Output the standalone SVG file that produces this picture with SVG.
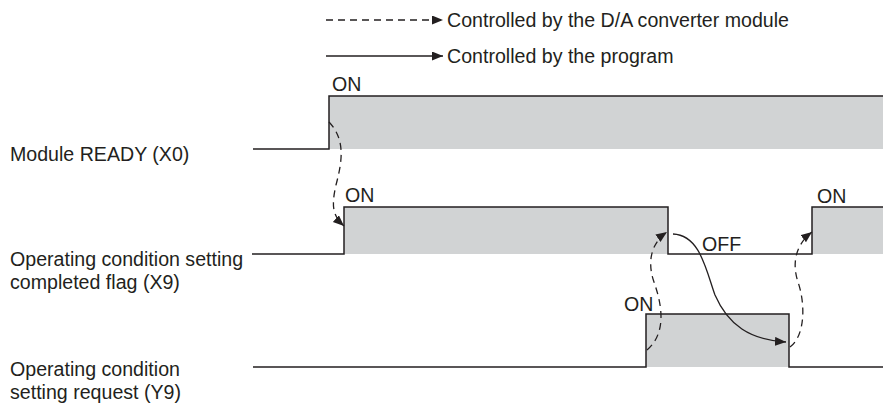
<svg xmlns="http://www.w3.org/2000/svg" width="883" height="406" viewBox="0 0 883 406">
<style>
text{font-family:"Liberation Sans",Arial,sans-serif;font-size:19.6px;fill:#231f20}
.sig{fill:none;stroke:#231f20;stroke-width:1.5}
.box{fill:#d1d3d4;stroke:none}
.dash{fill:none;stroke:#231f20;stroke-width:1.3;stroke-dasharray:7 5}
.solid{fill:none;stroke:#231f20;stroke-width:1.3}
</style>
<defs>
<marker id="ah" markerUnits="userSpaceOnUse" markerWidth="12" markerHeight="10" refX="11" refY="4.5" orient="auto">
<path d="M0,0 L11,4.5 L0,9 Z" fill="#231f20"/>
</marker>
</defs>
<g id="legend">
<line class="dash" x1="326" y1="20" x2="443" y2="20" stroke-dasharray="8 5" marker-end="url(#ah)"/>
<text x="447" y="27">Controlled by the D/A converter module</text>
<line class="solid" x1="326" y1="56" x2="443" y2="56" marker-end="url(#ah)"/>
<text x="447" y="63">Controlled by the program</text>
</g>
<g id="x0">
<rect class="box" x="329" y="96" width="554" height="53"/>
<path class="sig" d="M253,149 H329 V96 H883"/>
<text x="332" y="91">ON</text>
<text x="10" y="161">Module READY (X0)</text>
</g>
<g id="x9">
<rect class="box" x="344" y="207" width="324" height="47"/>
<rect class="box" x="812" y="207" width="71" height="47"/>
<path class="sig" d="M252,254 H344 V207 H668 V254 H812 V207 H883"/>
<text x="345" y="202">ON</text>
<text x="702" y="251">OFF</text>
<text x="817" y="203">ON</text>
<text x="10" y="266">Operating condition setting</text>
<text x="10" y="289">completed flag (X9)</text>
</g>
<g id="y9">
<rect class="box" x="646" y="314" width="143" height="53"/>
<path class="sig" d="M253,367 H646 V314 H789 V367 H883"/>
<text x="624" y="311">ON</text>
<text x="10" y="376">Operating condition</text>
<text x="10" y="399">setting request (Y9)</text>
</g>
<g id="connectors">
<path class="dash" d="M329,122 C346,140 342,162 336,185 C331,207 333,216 344,226" marker-end="url(#ah)"/>
<path class="dash" d="M647,350 C668,332 661,302 654,282 C647,262 651,243 667,232" marker-end="url(#ah)"/>
<path class="solid" d="M673,234 C700,235 706,270 715,295 C728,325 750,340 786,342" marker-end="url(#ah)"/>
<path class="dash" d="M790,347 C806,335 805,302 798,282 C792,264 795,245 812,232" marker-end="url(#ah)"/>
</g>
</svg>
